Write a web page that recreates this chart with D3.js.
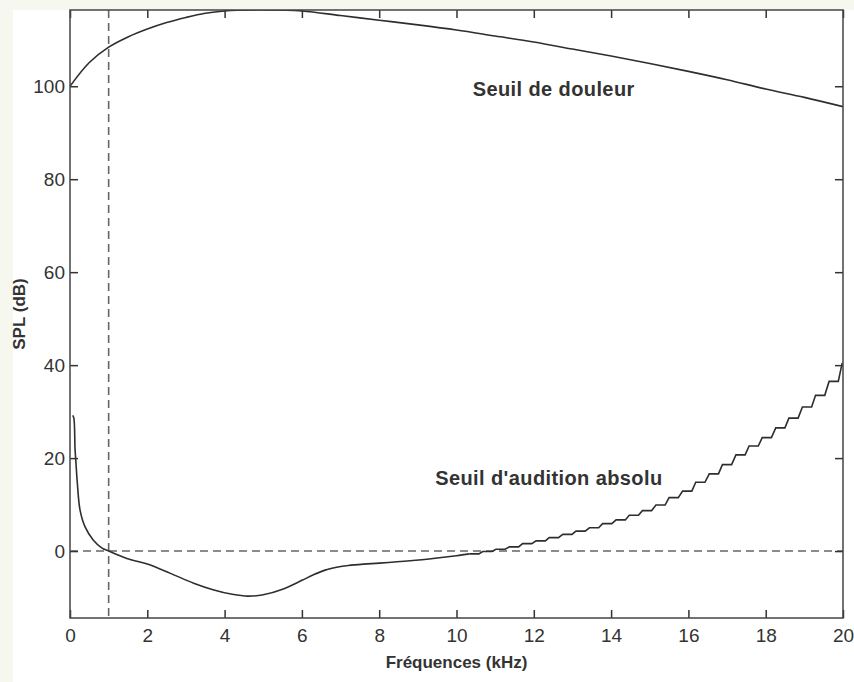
<!DOCTYPE html>
<html>
<head>
<meta charset="utf-8">
<script src="https://cdn.jsdelivr.net/npm/d3@7"></script>
<style>
    body { margin: 0; background: #f6f7ee; }
    #chart-container svg { display: block; }
    text { font-family: "Liberation Sans", Arial, Helvetica, sans-serif; fill: #333; }
</style>
</head>
<body>
<div id="chart-container"></div>
<script>
// pain threshold (smooth curve), kHz / dB
const painFreqs = [0, 0.5, 1, 1.5, 2, 2.5, 3, 3.5, 4, 5, 6, 7, 8, 9, 10, 11, 12, 13, 14, 15, 16, 17, 18, 19, 20];
const painLevels = [100, 105.1, 108.4, 110.6, 112.3, 113.7, 114.8, 115.7, 116.2, 116.4, 116.2, 115.2, 114.2, 113.2, 112.1, 110.8, 109.5, 108.0, 106.5, 104.9, 103.2, 101.4, 99.4, 97.6, 95.6];

// absolute threshold, low part (smooth)
const lowFreqs = [0.07, 0.1, 0.13, 0.15, 0.19, 0.26, 0.39, 0.6, 0.82, 1.0, 1.47, 2.0, 2.6, 3.2, 3.7, 4.2, 4.6, 5.0, 5.5, 6.0, 6.3, 6.6, 6.9, 7.2, 7.6, 8.0, 8.8, 9.5, 10.0, 10.34];
const lowLevels = [29.2, 28.6, 22.0, 19.5, 14.6, 8.8, 5.2, 2.4, 0.7, 0, -1.6, -2.8, -4.8, -6.9, -8.3, -9.3, -9.7, -9.4, -8.2, -6.3, -5.1, -4.1, -3.5, -3.1, -2.8, -2.6, -2.1, -1.5, -1.0, -0.6];

// absolute threshold, high part (FFT bins of 44.1/128 kHz, drawn as stairs)
const binFreqs = [10.34, 10.68, 11.02, 11.37, 11.71, 12.06, 12.40, 12.75, 13.09, 13.44, 13.78, 14.13, 14.47, 14.81, 15.16, 15.50, 15.85, 16.19, 16.54, 16.88, 17.23, 17.57, 17.91, 18.26, 18.60, 18.95, 19.29, 19.64, 19.98];
const binLevels = [-0.6, -0.1, 0.4, 0.9, 1.6, 2.2, 2.9, 3.6, 4.3, 5.0, 5.9, 6.7, 7.7, 8.7, 9.9, 11.5, 12.9, 14.8, 16.6, 18.6, 20.7, 22.6, 24.4, 26.5, 28.6, 31.0, 33.5, 36.5, 40.5];

const refFreq = 1;   // dashed vertical line (kHz)
const refLevel = 0;  // dashed horizontal line (dB)

const xTicks = [0, 2, 4, 6, 8, 10, 12, 14, 16, 18, 20];
const yTicks = [0, 20, 40, 60, 80, 100];

const curveLabels = [
    { text: "Seuil de douleur", f: 10.42, db: 98.0 },
    { text: "Seuil d'audition absolu", f: 9.45, db: 14.2 },
];

function drawChart(width, height) {
    const margin = { top: 10, right: 11, bottom: 64, left: 70 };
    const innerW = width - margin.left - margin.right;
    const innerH = height - margin.top - margin.bottom;

    d3.select("#chart-container").select("svg").remove();

    const root = d3
        .select("#chart-container")
        .append("svg")
        .attr("width", width)
        .attr("height", height);

    // white figure area on the beige page
    root.append("rect")
        .attr("x", 13)
        .attr("y", 10)
        .attr("width", width - 13)
        .attr("height", height - 10)
        .attr("fill", "#ffffff");

    const svg = root
        .append("g")
        .attr("transform", `translate(${margin.left}, ${margin.top})`);

    const x = d3.scaleLinear().domain([0, 20]).range([0, innerW]);
    const y = d3.scaleLinear().domain([-14.4, 116.4]).range([innerH, 0]);

    svg.append("clipPath")
        .attr("id", "plot-clip")
        .append("rect")
        .attr("width", innerW)
        .attr("height", innerH);

    const plot = svg.append("g").attr("clip-path", "url(#plot-clip)");

    // dashed reference lines
    plot.append("line")
        .attr("x1", x(refFreq))
        .attr("x2", x(refFreq))
        .attr("y1", 0)
        .attr("y2", innerH)
        .attr("stroke", "#666")
        .attr("stroke-width", 1.6)
        .attr("stroke-dasharray", "8,5");

    plot.append("line")
        .attr("x1", 0)
        .attr("x2", innerW)
        .attr("y1", y(refLevel))
        .attr("y2", y(refLevel))
        .attr("stroke", "#666")
        .attr("stroke-width", 1.6)
        .attr("stroke-dasharray", "8,5");

    const smoothLine = d3
        .line()
        .x((d) => x(d[0]))
        .y((d) => y(d[1]))
        .curve(d3.curveCatmullRom.alpha(0.5));

    // stairs: each bin holds its level for most of its width, then ramps to the next
    const binWidth = binFreqs[1] - binFreqs[0];
    const stairPts = d3.zip(binFreqs, binLevels).flatMap((d, i) =>
        i < binFreqs.length - 1 ? [d, [d[0] + binWidth * 0.7, d[1]]] : [d]
    );
    const stairLine = d3
        .line()
        .x((d) => x(d[0]))
        .y((d) => y(d[1]));

    const curves = [
        { pts: d3.zip(painFreqs, painLevels), gen: smoothLine },
        { pts: d3.zip(lowFreqs, lowLevels), gen: smoothLine },
        { pts: stairPts, gen: stairLine },
    ];

    plot.selectAll("path.curve")
        .data(curves)
        .enter()
        .append("path")
        .attr("class", "curve")
        .attr("d", (d) => d.gen(d.pts))
        .attr("fill", "none")
        .attr("stroke", "#2e2e2e")
        .attr("stroke-width", 1.6);

    // axes: ticks point inward on all four sides
    const styleAxis = (g) => {
        g.select(".domain").remove();
        g.selectAll(".tick line").attr("stroke", "#333").attr("stroke-width", 1.5);
        g.selectAll(".tick text")
            .style("font-size", "19px")
            .attr("fill", "#333");
    };

    svg.append("g")
        .attr("transform", `translate(0, ${innerH})`)
        .call(d3.axisBottom(x).tickValues(xTicks).tickSize(-8).tickPadding(11).tickFormat(d3.format("d")))
        .call(styleAxis);

    svg.append("g")
        .call(d3.axisTop(x).tickValues(xTicks).tickSize(-8).tickFormat(""))
        .call(styleAxis);

    svg.append("g")
        .call(d3.axisLeft(y).tickValues(yTicks).tickSize(-8).tickPadding(5).tickFormat(d3.format("d")))
        .call(styleAxis);

    svg.append("g")
        .attr("transform", `translate(${innerW}, 0)`)
        .call(d3.axisRight(y).tickValues(yTicks).tickSize(-8).tickFormat(""))
        .call(styleAxis);

    // frame
    svg.append("rect")
        .attr("width", innerW)
        .attr("height", innerH)
        .attr("fill", "none")
        .attr("stroke", "#444")
        .attr("stroke-width", 1.5);

    // curve names
    svg.selectAll("text.curve-label")
        .data(curveLabels)
        .enter()
        .append("text")
        .attr("class", "curve-label")
        .attr("x", (d) => x(d.f))
        .attr("y", (d) => y(d.db))
        .style("font-size", "20px")
        .style("font-weight", "bold")
        .style("letter-spacing", "0.4px")
        .text((d) => d.text);

    // axis titles
    svg.append("text")
        .attr("x", innerW / 2)
        .attr("y", innerH + 50)
        .attr("text-anchor", "middle")
        .style("font-size", "17px")
        .style("font-weight", "bold")
        .text("Fréquences (kHz)");

    svg.append("text")
        .attr("transform", `translate(${25 - margin.left}, ${innerH / 2}) rotate(-90)`)
        .attr("text-anchor", "middle")
        .style("font-size", "17px")
        .style("font-weight", "bold")
        .text("SPL (dB)");
}

drawChart(854, 682);
</script>
</body>
</html>
